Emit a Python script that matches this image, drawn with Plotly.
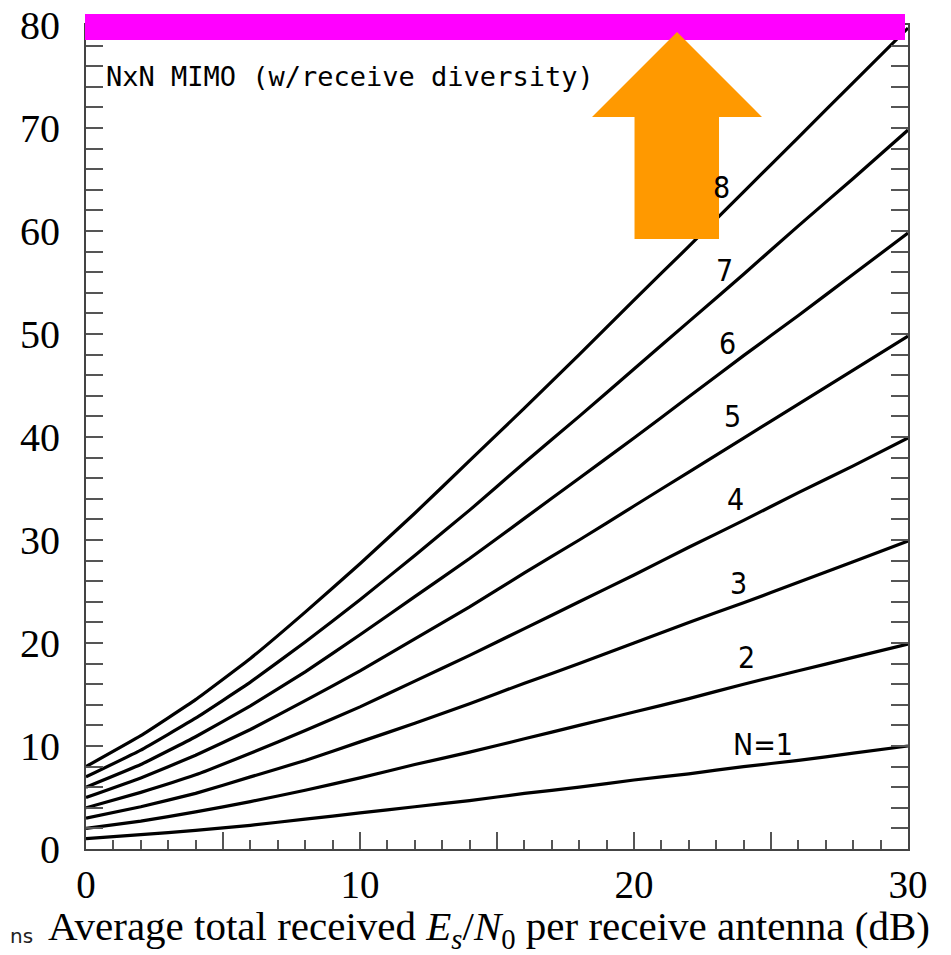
import plotly.graph_objects as go

snr_db = [0, 2, 4, 6, 8, 10, 12, 14, 16, 18, 20, 22, 24, 26, 28, 30]

cap_n1 = [1.0, 1.4, 1.8, 2.3, 2.9, 3.5, 4.1, 4.7, 5.4, 6.0, 6.7, 7.3, 8.0, 8.6, 9.3, 10.0]
cap_n2 = [2.0, 2.7, 3.6, 4.6, 5.7, 6.9, 8.2, 9.4, 10.7, 12.0, 13.3, 14.6, 16.0, 17.3, 18.6, 19.9]
cap_n3 = [3.0, 4.1, 5.4, 7.0, 8.6, 10.4, 12.2, 14.1, 16.1, 18.0, 20.0, 22.0, 23.9, 25.9, 27.9, 29.9]
cap_n4 = [4.0, 5.5, 7.2, 9.3, 11.5, 13.8, 16.3, 18.8, 21.4, 24.0, 26.6, 29.3, 31.9, 34.6, 37.2, 39.9]
cap_n5 = [5.0, 6.9, 9.1, 11.6, 14.4, 17.3, 20.4, 23.5, 26.8, 30.0, 33.3, 36.6, 39.9, 43.2, 46.5, 49.8]
cap_n6 = [6.0, 8.2, 10.9, 13.9, 17.2, 20.8, 24.5, 28.2, 32.1, 36.0, 39.9, 43.9, 47.9, 51.8, 55.8, 59.8]
cap_n7 = [7.0, 9.6, 12.7, 16.2, 20.1, 24.2, 28.5, 32.9, 37.5, 42.0, 46.6, 51.2, 55.8, 60.5, 65.1, 69.8]
cap_n8 = [8.0, 11.0, 14.5, 18.5, 23.0, 27.7, 32.6, 37.7, 42.8, 48.0, 53.3, 58.5, 63.8, 69.1, 74.4, 79.7]

series = [cap_n1, cap_n2, cap_n3, cap_n4, cap_n5, cap_n6, cap_n7, cap_n8]
curve_labels = ["N=1", "2", "3", "4", "5", "6", "7", "8"]
label_x = [24.7, 24.1, 23.8, 23.7, 23.6, 23.4, 23.3, 23.2]
label_y = [10.1, 18.6, 25.8, 33.9, 42.0, 49.1, 56.2, 64.2]

x_label_vals = [0, 10, 20, 30]
x_label_text = ["0", "10", "20", "30"]
x_mid_vals = [5, 15, 25]
x_top_vals = [0, 5, 10, 15, 20, 25, 30]
y_tickvals = [0, 10, 20, 30, 40, 50, 60, 70, 80]
y_ticktext = ["0", "10", "20", "30", "40", "50", "60", "70", "80"]

# page offset (browser body margin) compensation
OX, OY = 8, 8
FIG_W, FIG_H = 943, 947
L, T = 86 - OX, 25 - OY
R = FIG_W - (908 - OX)
B = FIG_H - (849 - OY)
PW, PH = 908 - 86, 849 - 25


def px(p):
    return (p - 86) / PW


def py(p):
    return (849 - p) / PH


fig = go.Figure()
for ys in series:
    fig.add_trace(go.Scatter(x=snr_db, y=ys, mode="lines",
                             line=dict(color="black", width=3.2, shape="spline", smoothing=0.3),
                             showlegend=False, hoverinfo="skip"))

# invisible traces for the extra tick axes
fig.add_trace(go.Scatter(x=[0, 30], y=[0, 0], xaxis="x2", mode="lines",
                         line=dict(width=0), showlegend=False, hoverinfo="skip"))
fig.add_trace(go.Scatter(x=[0, 30], y=[0, 0], xaxis="x3", mode="lines",
                         line=dict(width=0), showlegend=False, hoverinfo="skip"))

label_font = dict(family="Liberation Sans Narrow, DejaVu Sans Condensed, Roboto, sans-serif",
                  size=30, color="black")
for t, lx, ly in zip(curve_labels, label_x, label_y):
    fig.add_annotation(x=lx, y=ly, text=t, showarrow=False, font=label_font,
                       xanchor="center", yanchor="middle")

fig.add_annotation(xref="paper", yref="paper", x=px(104), y=py(77),
                   text="NxN MIMO (w/receive diversity)", showarrow=False,
                   xanchor="left", yanchor="middle",
                   font=dict(family="DejaVu Sans Mono, monospace", size=27, color="black"))

fig.add_annotation(xref="paper", yref="paper", x=px(489), y=py(929),
                   text="Average total received <i>E</i><sub><i>s</i></sub>/<i>N</i><sub>0</sub> per receive antenna (dB)",
                   showarrow=False, xanchor="center", yanchor="middle",
                   font=dict(family="Liberation Serif, Times New Roman, serif", size=41, color="black"))

fig.add_annotation(xref="paper", yref="paper", x=px(8), y=py(936),
                   text="ns", showarrow=False, xanchor="left", yanchor="middle",
                   font=dict(family="DejaVu Sans, sans-serif", size=20, color="#222"))

# magenta bar
fig.add_shape(type="rect", xref="paper", yref="paper",
              x0=px(85), x1=px(905), y0=py(40), y1=py(14),
              fillcolor="#FF00FF", line=dict(width=0), layer="above")

# orange arrow
arrow_pts = [(677, 32), (762, 117), (719, 117), (719, 239), (634.5, 239), (634.5, 117), (592, 117)]
path = "M " + " L ".join(f"{px(a):.4f},{py(b):.4f}" for a, b in arrow_pts) + " Z"
fig.add_shape(type="path", xref="paper", yref="paper", path=path,
              fillcolor="#FF9900", line=dict(width=0), layer="above")

x_tick_font = dict(family="Liberation Serif, Times New Roman, serif", size=39, color="black")
y_tick_font = dict(family="Liberation Serif, Times New Roman, serif", size=40, color="black")

fig.update_layout(
    width=FIG_W, height=FIG_H,
    margin=dict(l=L, r=R, t=T, b=B, autoexpand=False),
    paper_bgcolor="white", plot_bgcolor="white",
    showlegend=False,
    xaxis=dict(range=[0, 30], tickvals=x_label_vals, ticktext=x_label_text,
               ticks="inside", ticklen=17, tickwidth=2, tickcolor="#555",
               minor=dict(dtick=1, ticks="inside", ticklen=9, tickwidth=1.5, tickcolor="#555"),
               showline=True, linecolor="#444", linewidth=2, mirror=True,
               showgrid=False, zeroline=False, tickfont=x_tick_font,
               ticklabelstandoff=0, automargin=False, ticklabeloverflow="allow"),
    xaxis2=dict(range=[0, 30], overlaying="x", side="top", tickvals=x_top_vals,
                showticklabels=False, ticks="inside", ticklen=14, tickwidth=1.5,
                tickcolor="#555", showgrid=False, zeroline=False, showline=False,
                automargin=False),
    xaxis3=dict(range=[0, 30], overlaying="x", side="bottom", tickvals=x_mid_vals,
                showticklabels=False, ticks="inside", ticklen=17, tickwidth=2,
                tickcolor="#555", showgrid=False, zeroline=False, showline=False,
                automargin=False),
    yaxis=dict(range=[0, 80], tickvals=y_tickvals, ticktext=y_ticktext,
               ticks="inside", ticklen=17, tickwidth=2, tickcolor="#555",
               minor=dict(dtick=2, ticks="inside", ticklen=9, tickwidth=1.5, tickcolor="#555"),
               showline=True, linecolor="#444", linewidth=2, mirror="allticks",
               showgrid=False, zeroline=False, tickfont=y_tick_font,
               ticklabelstandoff=16, automargin=False, ticklabeloverflow="allow"),
)

fig.write_html("out.html")
